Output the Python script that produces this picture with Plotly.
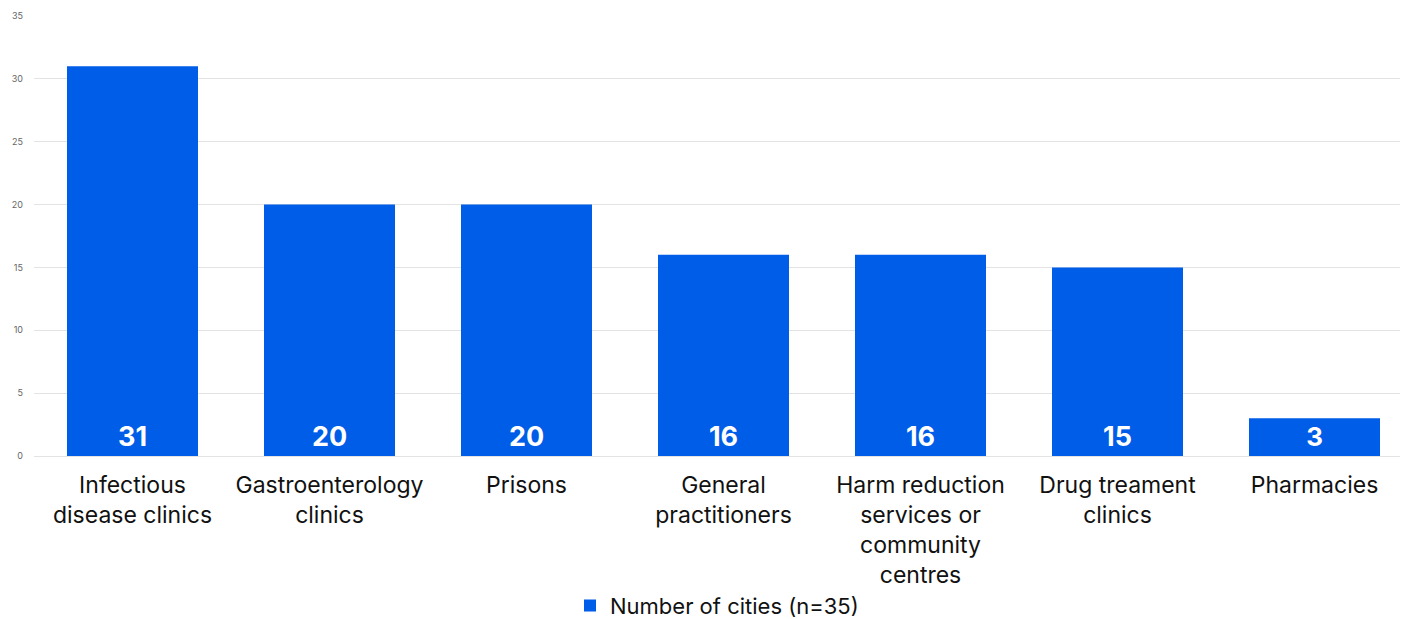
import plotly.graph_objects as go

categories = [
    "Infectious<br>disease clinics",
    "Gastroenterology<br>clinics",
    "Prisons",
    "General<br>practitioners",
    "Harm reduction<br>services or<br>community<br>centres",
    "Drug treament<br>clinics",
    "Pharmacies",
]
values = [31, 20, 20, 16, 16, 15, 3]
series_name = "Number of cities (n=35)"
y_ticks = [0, 5, 10, 15, 20, 25, 30, 35]

fig = go.Figure()
fig.add_trace(go.Bar(
    x=list(range(len(categories))),
    y=values,
    name=series_name,
    marker=dict(color="#005DE8", line=dict(width=0)),
    text=[str(v) for v in values],
    textposition="inside",
    insidetextanchor="start",
    textangle=0,
    textfont=dict(family="Inter, Roboto, sans-serif", size=27, color="white", weight="bold"),
    showlegend=True,
))

fig.update_layout(
    width=1402, height=619,
    margin=dict(l=34, r=2, t=16, b=163, autoexpand=False),
    paper_bgcolor="white",
    plot_bgcolor="white",
    bargap=0.335,
    font=dict(family="Inter, Roboto, sans-serif"),
    xaxis=dict(
        tickmode="array",
        tickvals=list(range(len(categories))),
        ticktext=categories,
        range=[-0.5, 6.434],
        showgrid=False,
        showline=False,
        zeroline=False,
        tickfont=dict(size=23, color="#111111"),
        ticks="",
        ticklabelstandoff=13,
        automargin=False,
    ),
    yaxis=dict(
        range=[0, 35],
        tickvals=y_ticks,
        showgrid=True,
        gridcolor="#e3e3e3",
        gridwidth=1,
        zeroline=True,
        zerolinecolor="#e3e3e3",
        zerolinewidth=1,
        tickfont=dict(size=9, color="#666666"),
        ticklabelstandoff=10,
        showline=False,
        automargin=False,
    ),
    legend=dict(
        orientation="h",
        x=0.5, xanchor="center",
        y=-0.34, yanchor="middle",
        font=dict(size=22, color="#111111"),
        itemwidth=30,
    ),
)

fig.write_html(
    "out.html",
    config={"displayModeBar": False},
    post_script="document.body.style.margin='0';document.body.style.overflow='hidden';",
)
